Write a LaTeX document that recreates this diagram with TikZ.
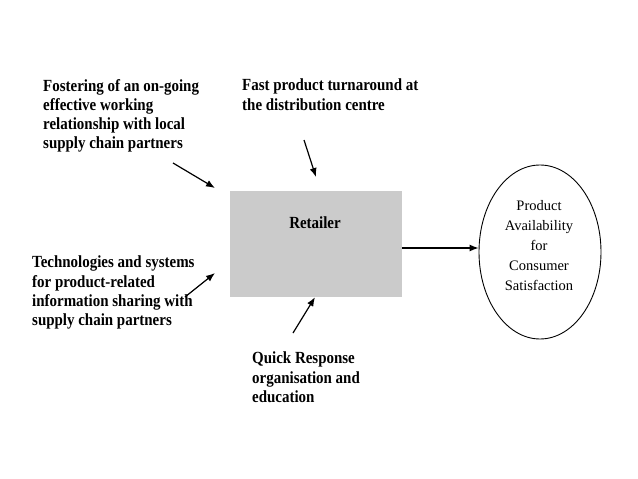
\documentclass[tikz,border=0pt]{standalone}
\usepackage{fontspec}
\setmainfont{Liberation Serif}
\newfontfamily\condbold[FakeStretch=0.88]{Liberation Serif Bold}
\usetikzlibrary{arrows.meta,shapes.geometric}
\definecolor{boxgray}{HTML}{CBCBCB}
\tikzset{
  lbl/.style={inner sep=0pt, anchor=north west, align=left, font=\condbold\fontsize{17}{19.2}\selectfont},
  arr/.style={line width=1.2pt, -{Latex[length=9pt,width=7pt]}},
}
\begin{document}
\begin{tikzpicture}[x=1pt,y=-1pt]
\useasboundingbox (0,0) rectangle (638,479);
\fill[white] (0,0) rectangle (638,479);
% retailer box
\node[fill=boxgray, minimum width=172pt, minimum height=106pt, inner sep=0pt] (box) at (316,244) {};
\node[font=\condbold\fontsize{17}{19}\selectfont, inner sep=0pt] (ret) at (315,223) {Retailer};
% ellipse
\node[ellipse, draw, line width=0.9pt, minimum width=122pt, minimum height=174pt, inner sep=0pt] (ell) at (540,252) {};
\node[align=center, inner sep=0pt, font=\fontsize{14.5}{20}\selectfont] (ptxt) at (539,246) {Product\\Availability\\for\\Consumer\\Satisfaction};
% labels
\node[lbl] (t1) at (43,79) {Fostering of an on-going\\effective working\\relationship with local\\supply chain partners};
\node[lbl] (t2) at (242,79) {Fast product turnaround at\\the distribution centre};
\node[lbl] (t3) at (32,256) {Technologies and systems\\for product-related\\information sharing with\\supply chain partners};
\node[lbl] (t4) at (252,352) {Quick Response\\organisation and\\education};
% arrows
\coordinate (a1s) at (173,163); \coordinate (a1e) at (215,188);
\coordinate (a2s) at (304,140); \coordinate (a2e) at (316,177);
\coordinate (a3s) at (185,297); \coordinate (a3e) at (215,273);
\coordinate (a4s) at (293,333);
\coordinate (a5s) at (402,248);
\draw[arr] (a1s) -- (a1e);
\draw[arr] (a2s) -- (a2e);
\draw[arr] (a3s) -- (a3e);
\draw[arr] (a4s) -- (box.south -| ret.south);
\draw[arr] (a5s) -- (a5s -| ell.west);
\end{tikzpicture}
\end{document}
